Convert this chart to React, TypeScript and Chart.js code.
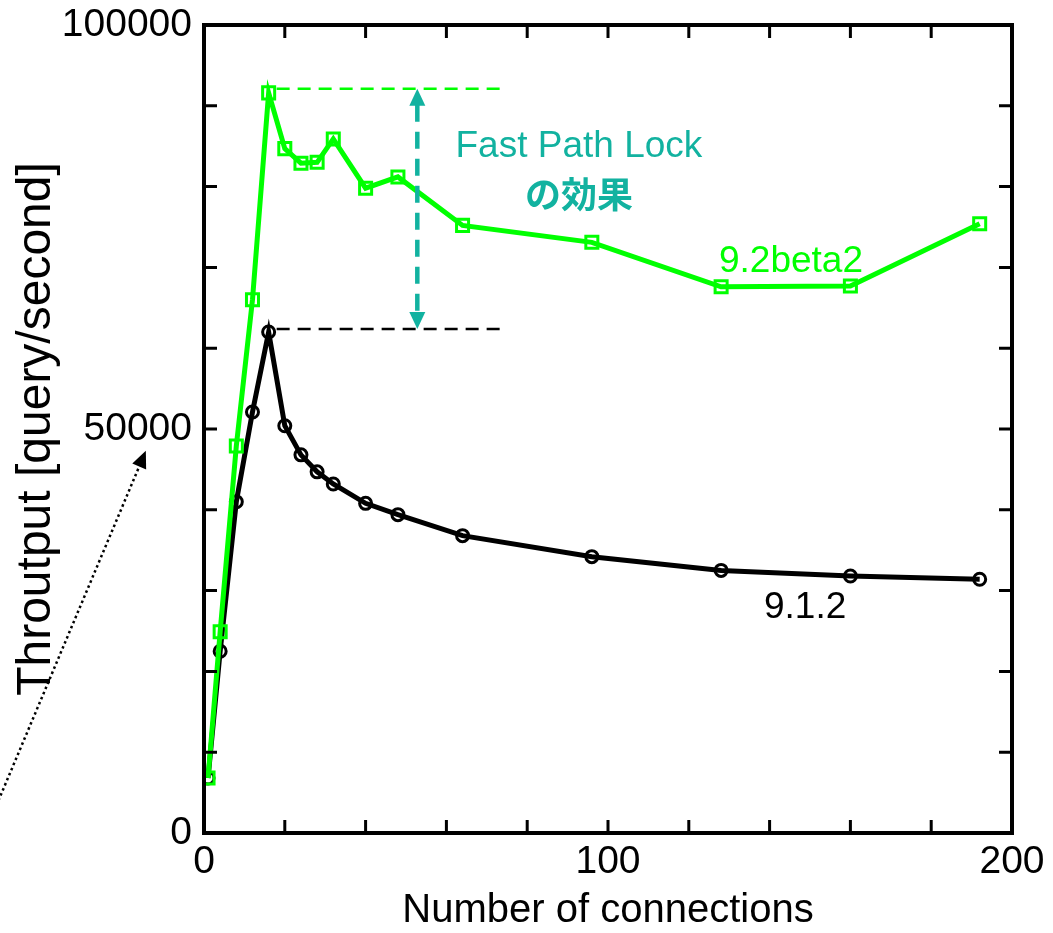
import React, { useEffect, useRef } from "react";
import { Chart, registerables } from "chart.js";
Chart.register(...registerables);

// ---- data ----
const connections = [1, 4, 8, 12, 16, 20, 24, 28, 32, 40, 48, 64, 96, 128, 160, 192];
const beta92 = [6800, 24900, 47900, 66000, 91600, 84700, 82900, 83000, 85900, 79800, 81200, 75200, 73100, 67600, 67700, 75400];
const v912 = [6800, 22500, 41000, 52100, 62000, 50400, 46800, 44700, 43200, 40800, 39400, 36800, 34200, 32500, 31800, 31400];
const xTickLabels = [0, 100, 200];
const yTickLabels = [0, 50000, 100000];
const seriesNames = ["9.2beta2", "9.1.2"];

// annotation anchors (in data units)
const refLineEndX = 74;
const effectArrowX = 52.8;
const effectTextLines = ["Fast Path Lock", "の効果"];
const effectTextPos = { x: 92.8, y1: 84900, y2: 79000 };
const seriesLabelPos = [
  { x: 145.3, y: 70700 },
  { x: 148.8, y: 27900 },
];
const dottedArrow = { fromX: -53, fromY: 1500, toX: -14.4, toY: 47300 };

const FONT = "'Liberation Sans', Arial, sans-serif";
const GREEN = "#00ff00";
const TEAL = "#12b2a0";

function arrowHead(ctx: CanvasRenderingContext2D, x: number, y: number, angle: number, len: number, half: number, color: string) {
  ctx.save();
  ctx.translate(x, y);
  ctx.rotate(angle);
  ctx.fillStyle = color;
  ctx.beginPath();
  ctx.moveTo(0, 0);
  ctx.lineTo(-len, -half);
  ctx.lineTo(-len, half);
  ctx.closePath();
  ctx.fill();
  ctx.restore();
}

const decorPlugin = {
  id: "decor",
  afterDatasetsDraw(chart: any) {
    const ctx: CanvasRenderingContext2D = chart.ctx;
    const xs = chart.scales.x;
    const ys = chart.scales.y;
    const { left, right, top, bottom } = chart.chartArea;
    ctx.save();

    // frame
    ctx.strokeStyle = "#000";
    ctx.lineWidth = 4;
    ctx.setLineDash([]);
    ctx.strokeRect(left, top, right - left, bottom - top);

    // inner ticks
    ctx.lineWidth = 3;
    const tl = 13;
    for (let v = 20; v < 200; v += 20) {
      const px = xs.getPixelForValue(v);
      ctx.beginPath();
      ctx.moveTo(px, bottom);
      ctx.lineTo(px, bottom - tl);
      ctx.moveTo(px, top);
      ctx.lineTo(px, top + tl);
      ctx.stroke();
    }
    for (let v = 10000; v < 100000; v += 10000) {
      const py = ys.getPixelForValue(v);
      ctx.beginPath();
      ctx.moveTo(left, py);
      ctx.lineTo(left + tl, py);
      ctx.moveTo(right, py);
      ctx.lineTo(right - tl, py);
      ctx.stroke();
    }

    // reference dashed lines at peaks
    const gMax = Math.max(...beta92);
    const bMax = Math.max(...v912);
    const gPeakX = connections[beta92.indexOf(gMax)];
    const bPeakX = connections[v912.indexOf(bMax)];
    const endX = xs.getPixelForValue(refLineEndX);
    ctx.lineWidth = 2.5;
    ctx.setLineDash([13, 8]);
    ctx.strokeStyle = GREEN;
    ctx.beginPath();
    ctx.moveTo(xs.getPixelForValue(gPeakX) + 8, ys.getPixelForValue(gMax) - 4);
    ctx.lineTo(endX, ys.getPixelForValue(gMax) - 4);
    ctx.stroke();
    ctx.strokeStyle = "#000";
    ctx.beginPath();
    ctx.moveTo(xs.getPixelForValue(bPeakX) + 8, ys.getPixelForValue(bMax) - 3);
    ctx.lineTo(endX, ys.getPixelForValue(bMax) - 3);
    ctx.stroke();

    // teal double arrow
    const ax = xs.getPixelForValue(effectArrowX);
    const ay1 = ys.getPixelForValue(gMax) - 4;
    const ay2 = ys.getPixelForValue(bMax) - 3;
    ctx.strokeStyle = TEAL;
    ctx.lineWidth = 4.5;
    ctx.setLineDash([17, 10]);
    ctx.beginPath();
    ctx.moveTo(ax, ay1 + 16);
    ctx.lineTo(ax, ay2 - 16);
    ctx.stroke();
    ctx.setLineDash([]);
    arrowHead(ctx, ax, ay1, -Math.PI / 2, 17, 8, TEAL);
    arrowHead(ctx, ax, ay2, Math.PI / 2, 17, 8, TEAL);

    // effect text
    ctx.fillStyle = TEAL;
    ctx.textAlign = "center";
    ctx.textBaseline = "middle";
    ctx.font = `37px ${FONT}`;
    ctx.fillText(effectTextLines[0], xs.getPixelForValue(effectTextPos.x), ys.getPixelForValue(effectTextPos.y1));
    ctx.font = `bold 36px 'Noto Sans CJK JP', sans-serif`;
    ctx.fillText(effectTextLines[1], xs.getPixelForValue(effectTextPos.x), ys.getPixelForValue(effectTextPos.y2));

    // series labels
    ctx.font = `37px ${FONT}`;
    ctx.fillStyle = GREEN;
    ctx.fillText(seriesNames[0], xs.getPixelForValue(seriesLabelPos[0].x), ys.getPixelForValue(seriesLabelPos[0].y));
    ctx.fillStyle = "#000";
    ctx.fillText(seriesNames[1], xs.getPixelForValue(seriesLabelPos[1].x), ys.getPixelForValue(seriesLabelPos[1].y));

    // dotted arrow
    const fx = xs.getPixelForValue(dottedArrow.fromX);
    const fy = ys.getPixelForValue(dottedArrow.fromY);
    const tx = xs.getPixelForValue(dottedArrow.toX);
    const ty = ys.getPixelForValue(dottedArrow.toY);
    const ang = Math.atan2(ty - fy, tx - fx);
    ctx.strokeStyle = "#000";
    ctx.lineWidth = 2.5;
    ctx.setLineDash([2.5, 3]);
    ctx.beginPath();
    ctx.moveTo(fx, fy);
    ctx.lineTo(tx - 14 * Math.cos(ang), ty - 14 * Math.sin(ang));
    ctx.stroke();
    ctx.setLineDash([]);
    arrowHead(ctx, tx, ty, ang, 17, 7.5, "#000");

    ctx.restore();
  },
};

export default function App() {
  const ref = useRef<HTMLCanvasElement>(null);
  useEffect(() => {
    if (!ref.current) return;
    const chart = new Chart(ref.current, {
      type: "line",
      data: {
        datasets: [
          {
            label: seriesNames[0],
            data: connections.map((c, i) => ({ x: c, y: beta92[i] })),
            borderColor: GREEN,
            backgroundColor: "transparent",
            borderWidth: 5,
            pointStyle: "rect",
            pointRadius: 8.5,
            pointBorderWidth: 3,
            pointBorderColor: GREEN,
            pointBackgroundColor: "transparent",
            tension: 0,
          },
          {
            label: seriesNames[1],
            data: connections.map((c, i) => ({ x: c, y: v912[i] })),
            borderColor: "#000",
            backgroundColor: "transparent",
            borderWidth: 5,
            pointStyle: "circle",
            pointRadius: 6,
            pointBorderWidth: 3,
            pointBorderColor: "#000",
            pointBackgroundColor: "transparent",
            tension: 0,
          },
        ],
      },
      options: {
        animation: false,
        responsive: false,
        maintainAspectRatio: false,
        layout: { autoPadding: false, padding: { top: 25, right: 41, left: 0, bottom: 0 } },
        plugins: { legend: { display: false }, tooltip: { enabled: false } },
        scales: {
          x: {
            type: "linear",
            min: 0,
            max: 200,
            grid: { display: false, drawTicks: false },
            border: { display: false },
            ticks: {
              stepSize: 20,
              autoSkip: false,
              maxRotation: 0,
              padding: 6,
              color: "#000",
              font: { family: FONT, size: 39 },
              callback: (v: any) => (xTickLabels.includes(Number(v)) ? String(v) : ""),
            },
            title: {
              display: true,
              text: "Number of connections",
              color: "#000",
              font: { family: FONT, size: 40, lineHeight: 1 },
              padding: { top: 0, bottom: 2 },
            },
            afterFit: (s: any) => {
              s.height = 100;
              s.paddingLeft = 0;
              s.paddingRight = 0;
            },
          },
          y: {
            type: "linear",
            min: 0,
            max: 100000,
            grid: { display: false, drawTicks: false },
            border: { display: false },
            ticks: {
              stepSize: 10000,
              autoSkip: false,
              padding: 12,
              color: "#000",
              font: { family: FONT, size: 39 },
              callback: (v: any) => (yTickLabels.includes(Number(v)) ? String(v) : ""),
            },
            title: {
              display: true,
              text: "Throutput [query/second]",
              color: "#000",
              font: { family: FONT, size: 48, lineHeight: 1 },
              padding: { top: 13, bottom: 0 },
            },
            afterFit: (s: any) => {
              s.width = 204;
              s.paddingTop = 0;
              s.paddingBottom = 0;
            },
          },
        },
      },
      plugins: [decorPlugin],
    } as any);
    return () => chart.destroy();
  }, []);
  return (
    <div style={{ position: "absolute", left: 0, top: 0, width: 1053, height: 933, background: "#fff" }}>
      <canvas ref={ref} width={1053} height={933} style={{ display: "block" }} />
    </div>
  );
}
